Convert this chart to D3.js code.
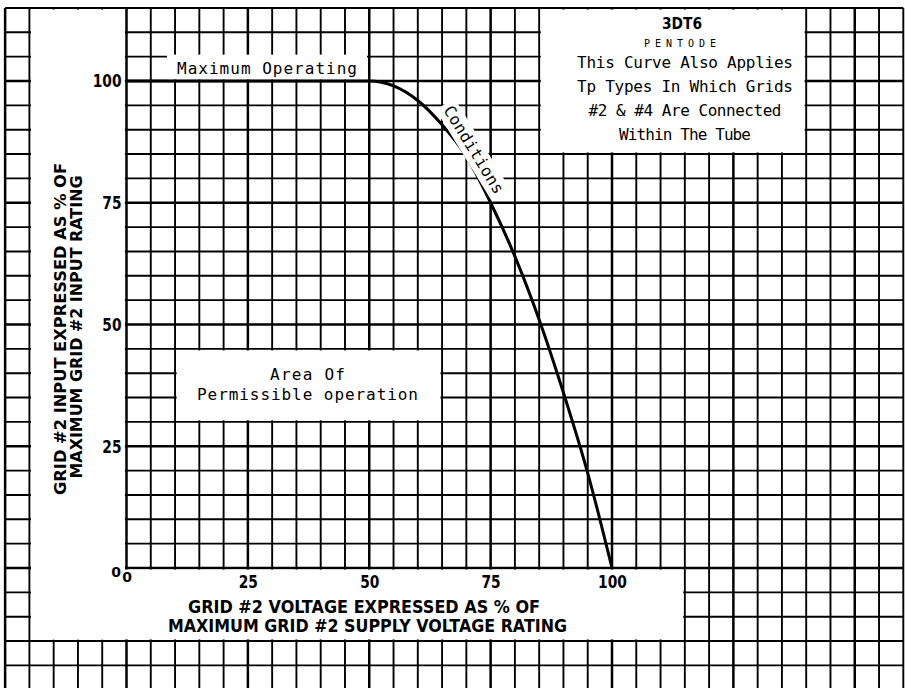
<!DOCTYPE html>
<html>
<head>
<meta charset="utf-8">
<style>
  body { margin: 0; background: #fff; }
  svg { display: block; }
</style>
</head>
<body>
<svg width="907" height="688"></svg>
<script src="https://d3js.org/d3.v7.min.js"></script>
<script>
// values
var gridVoltage = [0, 50, 55, 60, 65, 70, 75, 80, 85, 90, 95, 100];
var gridInput   = [100, 100, 99, 96, 91, 84.5, 75, 64, 51, 36, 19.5, 0];

var xTickValues = [25, 50, 75, 100];
var yTickValues = [25, 50, 75, 100];

var xTitle = ["GRID #2 VOLTAGE EXPRESSED AS % OF", "MAXIMUM GRID #2 SUPPLY VOLTAGE RATING"];
var yTitle = ["GRID #2 INPUT EXPRESSED AS % OF", "MAXIMUM GRID #2 INPUT RATING"];
var tubeName = "3DT6";
var tubeType = "PENTODE";
var noteLines = ["This Curve Also Applies", "Tp Types In Which Grids", "#2 & #4 Are Connected", "Within The Tube"];
var areaLines = ["Area Of", "Permissible operation"];
var curveTop = "Maximum Operating";
var curveSide = "Conditions";

var svg = d3.select("svg");
var bold = "DejaVu Sans, sans-serif";
var mono = "DejaVu Sans Mono, monospace";

var x = d3.scaleLinear().domain([0, 100]).range([126.5, 612]);
var y = d3.scaleLinear().domain([0, 100]).range([568, 81]);

// graph paper, running past the plot on every side
var grid = svg.append("g");
grid.selectAll(".v").data(d3.range(-25, 161, 5)).enter().append("line")
    .attr("class", "v")
    .attr("x1", function(d) { return x(d); })
    .attr("x2", function(d) { return x(d); })
    .attr("y1", y(115)).attr("y2", 688)
    .attr("stroke", "#000")
    .attr("stroke-width", function(d) { return d % 25 === 0 ? 2.5 : 1.9; });
grid.selectAll(".h").data(d3.range(-25, 116, 5)).enter().append("line")
    .attr("class", "h")
    .attr("x1", x(-25)).attr("x2", x(160))
    .attr("y1", function(d) { return y(d); })
    .attr("y2", function(d) { return y(d); })
    .attr("stroke", "#000")
    .attr("stroke-width", function(d) { return d % 25 === 0 ? 2.5 : 1.9; });

// blanked parts of the paper
function blank(x0, x1, y0, y1) {
  svg.append("rect")
    .attr("x", x(x0) + 1.6).attr("y", y(y1) + 1.6)
    .attr("width", x(x1) - x(x0) - 3.2)
    .attr("height", y(y0) - y(y1) - 3.2)
    .attr("fill", "#fff");
}
blank(-20, 0, -15, 115);
blank(-20, 115, -15, 0);
blank(85, 140, 85, 115);
blank(10, 65, 30, 45);

// "Maximum Operating" box sits on top of the 100 line
svg.append("rect")
  .attr("x", 267 - 100).attr("y", y(105) - 2)
  .attr("width", 200).attr("height", y(100) - y(105) + 0.5)
  .attr("fill", "#fff");

// the curve
var pts = gridVoltage.map(function(v, i) { return [v, gridInput[i]]; });
var line = d3.line()
    .x(function(d) { return x(d[0]); })
    .y(function(d) { return y(d[1]); })
    .curve(d3.curveMonotoneX);

svg.append("path")
  .datum(pts)
  .attr("fill", "none")
  .attr("stroke", "#000")
  .attr("stroke-width", 3)
  .attr("d", line);

// "Conditions" along the curve, with its own white patch
var cond = svg.append("g").attr("transform", "translate(443,110) rotate(58.5)");
cond.append("rect")
  .attr("x", -4).attr("y", -16).attr("width", 108).attr("height", 22)
  .attr("fill", "#fff");
cond.append("text")
  .attr("font-family", mono).attr("font-size", 16)
  .attr("textLength", 100).attr("lengthAdjust", "spacing")
  .text(curveSide);

svg.append("text")
  .attr("x", 267).attr("y", 74)
  .attr("text-anchor", "middle")
  .attr("font-family", mono).attr("font-size", 16)
  .attr("textLength", 180).attr("lengthAdjust", "spacing")
  .text(curveTop);

// axes
var yAxis = svg.append("g")
    .attr("transform", "translate(" + x(0) + ",0)")
    .call(d3.axisLeft(y).tickValues(yTickValues).tickSize(0).tickPadding(5));
yAxis.select(".domain").remove();

var xAxis = svg.append("g")
    .attr("transform", "translate(0," + y(0) + ")")
    .call(d3.axisBottom(x).tickValues(xTickValues).tickSize(0).tickPadding(7));
xAxis.select(".domain").remove();

svg.selectAll(".tick text")
  .attr("font-family", bold).attr("font-weight", "bold").attr("font-size", 18)
  .attr("fill", "#000")
  .attr("textLength", function(d) { return String(d).length * 9.6; })
  .attr("lengthAdjust", "spacingAndGlyphs");

svg.append("text")
  .attr("x", 116).attr("y", 577).attr("text-anchor", "middle")
  .attr("font-family", bold).attr("font-weight", "bold").attr("font-size", 14)
  .text("0");
svg.append("text")
  .attr("x", 127).attr("y", 582).attr("text-anchor", "middle")
  .attr("font-family", bold).attr("font-weight", "bold").attr("font-size", 14)
  .text("0");

// axis titles
var xTitleLayout = [{cx: 364, by: 613, len: 352}, {cx: 367.5, by: 632, len: 399}];
svg.selectAll(".xtitle").data(xTitle).enter().append("text")
  .attr("class", "xtitle")
  .attr("x", function(d, i) { return xTitleLayout[i].cx; })
  .attr("y", function(d, i) { return xTitleLayout[i].by; })
  .attr("text-anchor", "middle")
  .attr("font-family", bold).attr("font-weight", "bold").attr("font-size", 17)
  .attr("textLength", function(d, i) { return xTitleLayout[i].len; })
  .attr("lengthAdjust", "spacingAndGlyphs")
  .text(function(d) { return d; });

var yTitleLayout = [{cy: 329, bx: 66, len: 332}, {cy: 327, bx: 82, len: 303}];
svg.append("g").attr("transform", "rotate(-90)")
  .selectAll("text").data(yTitle).enter().append("text")
  .attr("x", function(d, i) { return -yTitleLayout[i].cy; })
  .attr("y", function(d, i) { return yTitleLayout[i].bx; })
  .attr("text-anchor", "middle")
  .attr("font-family", bold).attr("font-weight", "bold").attr("font-size", 16)
  .attr("textLength", function(d, i) { return yTitleLayout[i].len; })
  .attr("lengthAdjust", "spacingAndGlyphs")
  .text(function(d) { return d; });

// note in the top right box
var note = svg.append("g").attr("text-anchor", "middle");
note.append("text")
  .attr("x", 682).attr("y", 29)
  .attr("font-family", bold).attr("font-weight", "bold").attr("font-size", 15)
  .attr("textLength", 40).attr("lengthAdjust", "spacingAndGlyphs")
  .text(tubeName);
note.append("text")
  .attr("x", 680).attr("y", 47)
  .attr("font-family", mono).attr("font-size", 10)
  .attr("textLength", 72).attr("lengthAdjust", "spacing")
  .text(tubeType);

var noteLen = [216, 216, 193, 132];
note.selectAll(".note").data(noteLines).enter().append("text")
  .attr("class", "note")
  .attr("x", 685)
  .attr("y", function(d, i) { return 68 + i * 24; })
  .attr("font-family", mono).attr("font-size", 16)
  .attr("textLength", function(d, i) { return noteLen[i]; })
  .attr("lengthAdjust", "spacing")
  .text(function(d) { return d; });

// area label
var areaLen = [75, 221];
svg.selectAll(".area").data(areaLines).enter().append("text")
  .attr("class", "area")
  .attr("x", 307.5)
  .attr("y", function(d, i) { return 380 + i * 20; })
  .attr("text-anchor", "middle")
  .attr("font-family", mono).attr("font-size", 16)
  .attr("textLength", function(d, i) { return areaLen[i]; })
  .attr("lengthAdjust", "spacing")
  .text(function(d) { return d; });
</script>
</body>
</html>
